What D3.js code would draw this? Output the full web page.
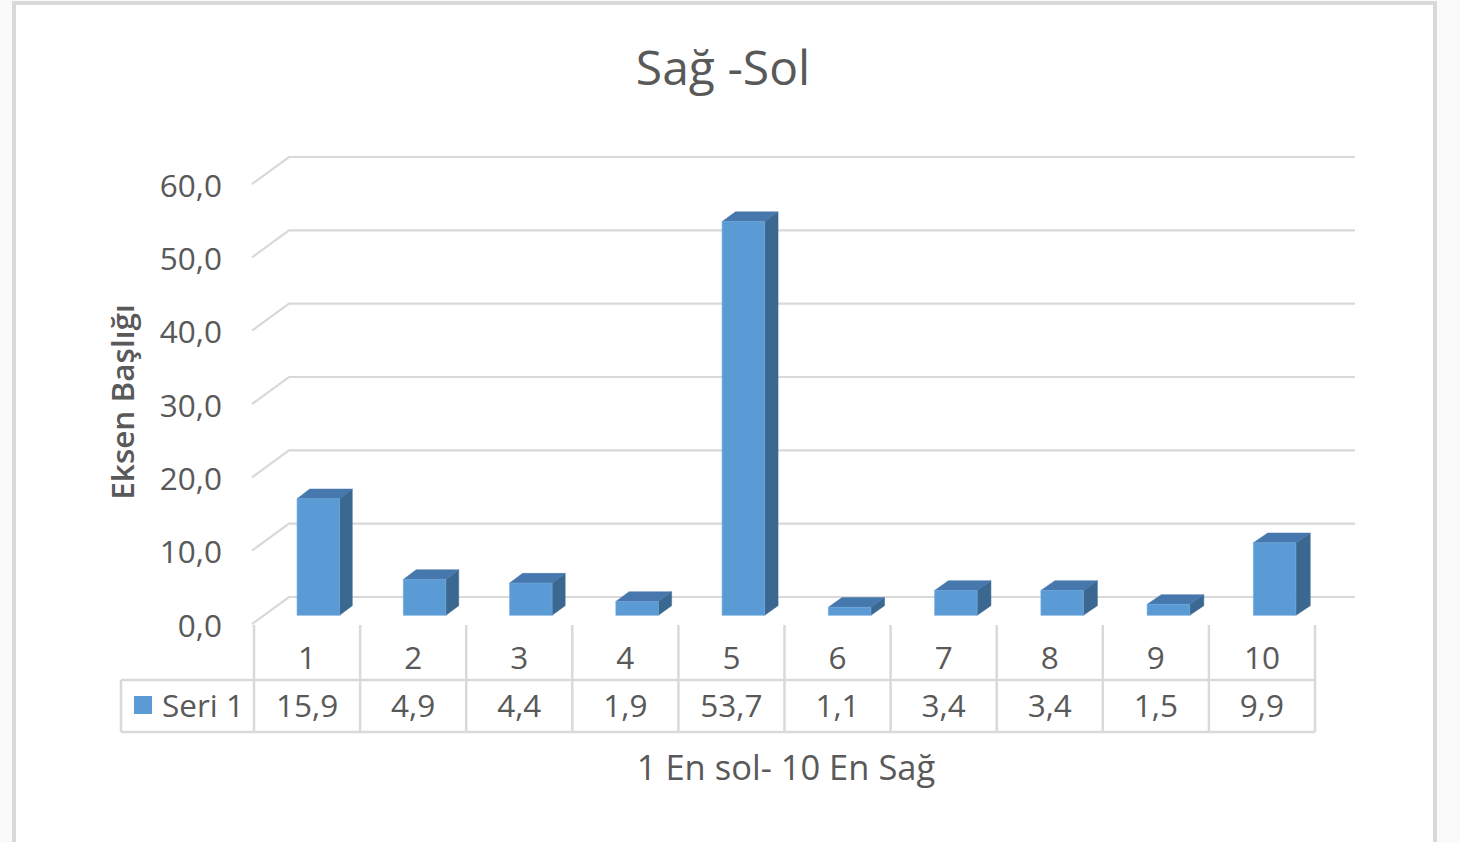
<!DOCTYPE html>
<html><head><meta charset="utf-8">
<script src="https://cdn.jsdelivr.net/npm/d3@7"></script>
<style>
html,body{margin:0;padding:0;background:#fafafa;}
svg{display:block;}
text{font-family:"Open Sans",sans-serif;fill:#595959;}
</style></head>
<body>
<svg id="c" width="1460" height="842"></svg>
<script>
const categories = ["1","2","3","4","5","6","7","8","9","10"];
const values = [15.9, 4.9, 4.4, 1.9, 53.7, 1.1, 3.4, 3.4, 1.5, 9.9];
const valueLabels = ["15,9","4,9","4,4","1,9","53,7","1,1","3,4","3,4","1,5","9,9"];
const yTicks = [0,10,20,30,40,50,60];
const seriesName = "Seri 1";
const title = "Sağ -Sol";
const yTitle = "Eksen Başlığı";
const xTitle = "1 En sol- 10 En Sağ";

const svg = d3.select("#c");
// frame
svg.append("rect").attr("x",14).attr("y",3).attr("width",1421).attr("height",845)
  .attr("fill","#fff").attr("stroke","#d9d9d9").attr("stroke-width",4);

const y = d3.scaleLinear().domain([0,60]).range([624,184]);
const xF = d3.scaleBand().domain(categories).range([254,1315]);
const xB = d3.scaleBand().domain(categories).range([289,1355]);
const DY = -27;
const fmt = v => d3.format(".1f")(v).replace(".", ",");

function proj(cat, frac, v, t){
  const xf = xF(cat) + frac*xF.bandwidth();
  const xb = xB(cat) + frac*xB.bandwidth();
  return [xf + (xb-xf)*t, y(v) + DY*t];
}

// gridlines (back wall + left wall)
const grid = svg.append("g").attr("stroke","#d9d9d9").attr("stroke-width",2.2).attr("fill","none");
yTicks.forEach(v=>{
  const fx = xF.range()[0], bx = xB.range()[0], ex = xB.range()[1];
  grid.append("path").attr("d", d3.line()([[fx-2, y(v)],[bx, y(v)+DY],[ex, y(v)+DY]]));
});

// y tick labels
svg.append("g").selectAll("text").data(yTicks).join("text")
  .attr("x",222).attr("y",d=>y(d)).attr("text-anchor","end").attr("dominant-baseline","central")
  .attr("font-size",31.5).text(fmt);

// bars
const t0 = 0.32, t1 = 0.68, f0 = 0.3, f1 = 0.7;
const bars = svg.append("g");
categories.forEach((c,i)=>{
  const v = values[i];
  const poly = pts => "M" + pts.map(p=>p.join(",")).join("L") + "Z";
  bars.append("path").attr("d", poly([proj(c,f1,0,t0),proj(c,f1,0,t1),proj(c,f1,v,t1),proj(c,f1,v,t0)]))
    .attr("fill","#3b6890").attr("stroke","#3b6890").attr("stroke-width",0.5);
  bars.append("path").attr("d", poly([proj(c,f0,v,t0),proj(c,f1,v,t0),proj(c,f1,v,t1),proj(c,f0,v,t1)]))
    .attr("fill","#4677ad").attr("stroke","#4677ad").attr("stroke-width",0.5);
  bars.append("path").attr("d", poly([proj(c,f0,0,t0),proj(c,f1,0,t0),proj(c,f1,v,t0),proj(c,f0,v,t0)]))
    .attr("fill","#5b9bd5").attr("stroke","#6fa8dc").attr("stroke-width",0.6);
});

// data table
const tbl = svg.append("g").attr("stroke","#d9d9d9").attr("stroke-width",2.5).attr("fill","none");
const edges = [xF.range()[0]].concat(categories.map(c=>xF(c)+xF.bandwidth()));
edges.forEach(xx=>{
  tbl.append("line").attr("x1",xx).attr("x2",xx).attr("y1",625).attr("y2",732);
});
tbl.append("line").attr("x1",121).attr("x2",121).attr("y1",680).attr("y2",732);
tbl.append("line").attr("x1",121).attr("x2",1315).attr("y1",680).attr("y2",680);
tbl.append("line").attr("x1",121).attr("x2",1315).attr("y1",732).attr("y2",732);

svg.append("g").selectAll("text").data(categories).join("text")
  .attr("x",d=>xF(d)+xF.bandwidth()/2).attr("y",656).attr("text-anchor","middle")
  .attr("dominant-baseline","central").attr("font-size",31.5).text(d=>d);
svg.append("g").selectAll("text").data(valueLabels).join("text")
  .attr("x",(d,i)=>xF(categories[i])+xF.bandwidth()/2).attr("y",704).attr("text-anchor","middle")
  .attr("dominant-baseline","central").attr("font-size",31.5).text(d=>d);

// legend key in table
svg.append("rect").attr("x",134).attr("y",696).attr("width",18).attr("height",18).attr("fill","#5b9bd5");
svg.append("text").attr("x",162).attr("y",704).attr("dominant-baseline","central")
  .attr("font-size",31.5).text(seriesName);

// titles
svg.append("text").attr("x",723).attr("y",66).attr("text-anchor","middle").attr("dominant-baseline","central")
  .attr("font-size",48).text(title);
svg.append("text").attr("transform","translate(121,402) rotate(-90)").attr("text-anchor","middle")
  .attr("dominant-baseline","central").attr("font-size",31.5).attr("font-weight",600).text(yTitle);
svg.append("text").attr("x",786).attr("y",766).attr("text-anchor","middle").attr("dominant-baseline","central")
  .attr("font-size",34.5).text(xTitle);
</script>
</body></html>
